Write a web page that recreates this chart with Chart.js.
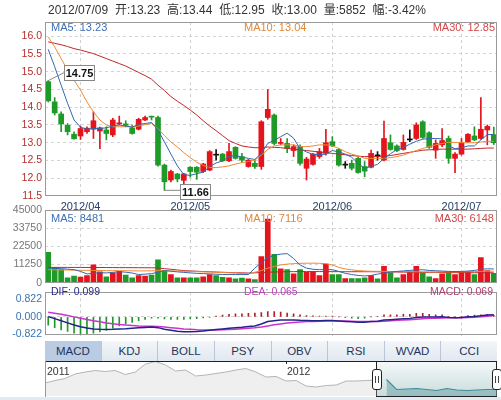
<!DOCTYPE html>
<html>
<head>
<meta charset="utf-8">
<script src="https://cdn.jsdelivr.net/npm/chart.js@4/dist/chart.umd.min.js"></script>
<style>
  html, body { margin: 0; padding: 0; background: #fff; }
  #wrap { position: relative; width: 501px; height: 400px; overflow: hidden;
          font-family: "Liberation Sans", Arial, "Noto Sans CJK SC", sans-serif; }
  canvas { position: absolute; left: 0; }
  .t { position: absolute; white-space: nowrap; line-height: 12px; }
  #tabs { position: absolute; left: 45px; top: 341px; width: 452px; height: 20px;
          background: linear-gradient(#f3f6fa, #e1e8f0); display: flex; }
  #tabs div { flex: 1; text-align: center; font-size: 11.5px; line-height: 20px; color: #1e3558;
              border-right: 1px solid #b9c6d6; box-sizing: border-box; }
  #tabs div:last-child { border-right: none; }
  #tabs div.on { background: #b9cce4; }
  #navTop { position: absolute; left: 45px; top: 361px; width: 452px; height: 1px; background: #222; }
  #navLeft { position: absolute; left: 45px; top: 361px; width: 1px; height: 36px; background: #999; }
  #win { position: absolute; left: 376px; top: 361px; width: 119px; height: 34px;
         border: 1px solid #222; background: linear-gradient(#f4f8f8, #c9dcdc); }
  .handle { position: absolute; top: 369px; width: 8px; height: 19px; border: 1px solid #222;
            border-radius: 3px; background: #fff; }
  .handle::before, .handle::after { content: ""; position: absolute; top: 6px; width: 1px; height: 7px; background: #444; }
  .handle::before { left: 2px; } .handle::after { left: 5px; }
  #strip { position: absolute; left: 0; top: 397px; width: 501px; height: 3px; background: #e4eaf1; }
</style>
</head>
<body>
<div id="wrap">
  <div id="win"></div>
  <canvas id="cNav" width="501" height="35" style="top:361px"></canvas>
  <canvas id="cPrice" width="501" height="215" style="top:0"></canvas>
  <canvas id="cVol" width="501" height="92" style="top:200px"></canvas>
  <canvas id="cMacd" width="501" height="62" style="top:283px"></canvas>

  <div class="t" id="title" style="left:48px;top:4px;font-size:12px;color:#333;word-spacing:3.5px"></div>
  <div class="t" id="lgMa5" style="left:51px;top:21px;font-size:11px;color:#3b6fb6"></div>
  <div class="t" id="lgMa10" style="left:244px;top:21px;font-size:11px;color:#e0883a"></div>
  <div class="t" id="lgMa30" style="right:6px;top:21px;font-size:11px;color:#d04848"></div>
  <div class="t" id="lgV5" style="left:51px;top:212px;font-size:11px;color:#3b6fb6"></div>
  <div class="t" id="lgV10" style="left:244px;top:212px;font-size:11px;color:#e0883a"></div>
  <div class="t" id="lgV30" style="right:7px;top:212px;font-size:11px;color:#d04848"></div>
  <div class="t" id="lgDif" style="left:51px;top:285px;font-size:10.5px;color:#2a2a90"></div>
  <div class="t" id="lgDea" style="left:244px;top:285px;font-size:10.5px;color:#c040c0"></div>
  <div class="t" id="lgMacd" style="right:8px;top:285px;font-size:10.5px;color:#b04070"></div>

  <div id="tabs"></div>
  <div id="navTop"></div>
  <div id="navLeft"></div>
  <div class="t" id="navY0" style="left:47px;top:365px;font-size:10.5px;color:#333"></div>
  <div class="t" id="navY1" style="left:287px;top:365px;font-size:10.5px;color:#333"></div>
  <div style="position:absolute;left:286px;top:361px;width:1px;height:3px;background:#222"></div>
  <div class="handle" style="left:372px"></div>
  <div class="handle" style="left:492px"></div>
  <div id="strip"></div>
</div>

<script>
// ---- trading days shown ----
const dates = [
  "2012/03/26","2012/03/27","2012/03/28","2012/03/29","2012/03/30",
  "2012/04/05","2012/04/06","2012/04/09","2012/04/10","2012/04/11","2012/04/12","2012/04/13",
  "2012/04/16","2012/04/17","2012/04/18","2012/04/19","2012/04/20","2012/04/23","2012/04/24",
  "2012/04/25","2012/04/26","2012/04/27",
  "2012/05/02","2012/05/03","2012/05/04","2012/05/07","2012/05/08","2012/05/09","2012/05/10",
  "2012/05/11","2012/05/14","2012/05/15","2012/05/16","2012/05/17","2012/05/18","2012/05/21",
  "2012/05/22","2012/05/23","2012/05/24","2012/05/25","2012/05/28","2012/05/29","2012/05/30","2012/05/31",
  "2012/06/01","2012/06/04","2012/06/05","2012/06/06","2012/06/07","2012/06/08","2012/06/11",
  "2012/06/12","2012/06/13","2012/06/14","2012/06/15","2012/06/18","2012/06/19","2012/06/20",
  "2012/06/21","2012/06/25","2012/06/26","2012/06/27","2012/06/28","2012/06/29",
  "2012/07/02","2012/07/03","2012/07/04","2012/07/05","2012/07/06","2012/07/09"
];

// ---- daily prices ----
const opens = [
  14.72,14.15,13.81,13.49,13.24,13.19,13.31,13.38,13.33,13.36,
  13.22,13.53,13.53,13.42,13.38,13.64,13.73,13.71,12.37,11.95,
  12.12,11.94,12.31,12.31,12.19,12.23,12.65,12.68,12.49,12.87,
  12.61,12.33,12.42,12.33,13.71,13.78,12.98,12.98,12.78,12.89,
  12.28,12.39,12.61,12.70,13.03,12.81,12.37,12.42,12.56,12.33,
  12.31,12.63,12.51,13.00,12.91,12.81,13.08,13.12,13.59,13.28,
  12.79,12.94,13.12,12.56,12.68,13.03,13.19,13.12,13.36,13.23
];
const highs = [
  14.75,14.27,13.87,13.54,13.31,13.47,13.45,13.87,13.44,13.45,
  13.69,13.75,13.62,13.50,13.69,13.75,13.75,13.75,12.40,12.23,
  12.14,12.14,12.33,12.33,12.42,12.78,12.81,12.70,12.98,12.89,
  12.70,12.53,12.50,13.62,14.50,13.81,13.12,13.12,12.94,12.94,
  12.59,12.70,12.84,13.38,13.17,12.84,12.47,12.51,12.59,12.47,
  12.79,12.75,13.61,13.22,12.94,13.22,13.36,13.56,13.62,13.31,
  13.08,13.40,13.19,12.72,13.12,13.26,13.45,14.27,13.50,13.44
];
const lows = [
  14.15,13.78,13.31,13.22,13.10,13.09,13.26,13.12,12.83,13.08,
  13.17,13.50,13.45,13.24,13.36,13.62,13.64,12.34,11.66,11.90,
  11.90,11.83,12.03,11.97,12.16,12.21,12.51,12.47,12.47,12.54,
  12.45,12.31,12.28,12.25,13.66,12.94,12.94,12.72,12.61,12.37,
  11.95,12.37,12.56,12.65,12.89,12.34,12.28,12.23,12.14,12.04,
  12.29,12.51,12.49,12.79,12.75,12.79,13.03,13.09,13.12,12.84,
  12.56,12.89,12.42,12.16,12.65,13.00,13.06,13.09,12.94,12.95
];
const closes = [
  14.18,13.84,13.53,13.31,13.11,13.40,13.41,13.62,13.42,13.26,
  13.64,13.56,13.49,13.26,13.66,13.71,13.72,12.37,11.90,12.19,
  11.98,12.12,12.19,12.17,12.40,12.75,12.65,12.49,12.75,12.56,
  12.51,12.51,12.33,13.59,13.94,12.98,13.01,12.84,12.89,12.42,
  12.54,12.68,12.75,13.00,12.91,12.37,12.37,12.28,12.16,12.20,
  12.70,12.63,13.12,12.81,12.78,13.01,13.08,13.50,13.15,12.87,
  12.98,13.06,12.56,12.68,13.00,13.24,13.08,13.38,13.46,13.00
];

// ---- price moving averages ----
const ma5 = [
  15.63,15.14,14.62,14.11,13.64,13.44,13.38,13.40,13.40,13.42,
  13.47,13.50,13.47,13.44,13.52,13.54,13.57,13.36,13.02,12.68,
  12.35,12.10,12.08,12.13,12.17,12.33,12.43,12.49,12.61,12.64,
  12.59,12.56,12.53,12.70,12.98,13.07,13.17,13.27,13.13,12.83,
  12.74,12.67,12.66,12.68,12.78,12.74,12.68,12.59,12.42,12.28,
  12.34,12.39,12.56,12.69,12.81,12.87,12.96,13.04,13.10,13.12,
  13.12,13.11,12.92,12.83,12.86,12.91,12.91,13.08,13.23,13.23
];
const ma10 = [
  15.98,15.70,15.37,15.04,14.76,14.48,14.15,13.87,13.64,13.50,
  13.45,13.45,13.45,13.45,13.47,13.51,13.54,13.40,13.20,13.02,
  12.88,12.72,12.58,12.45,12.36,12.30,12.30,12.32,12.35,12.40,
  12.44,12.47,12.51,12.65,12.81,12.91,12.94,12.94,12.94,12.89,
  12.89,12.91,12.94,12.94,12.91,12.84,12.75,12.68,12.63,12.56,
  12.56,12.56,12.56,12.58,12.61,12.65,12.72,12.78,12.84,12.89,
  12.94,12.98,13.01,13.01,13.00,13.00,13.00,13.02,13.04,13.04
];
const ma30 = [
  15.84,15.80,15.76,15.71,15.65,15.61,15.56,15.51,15.44,15.37,
  15.30,15.23,15.16,15.07,14.98,14.89,14.79,14.62,14.47,14.30,
  14.17,14.05,13.92,13.78,13.62,13.47,13.34,13.20,13.06,12.98,
  12.91,12.88,12.86,12.86,12.88,12.87,12.86,12.84,12.82,12.80,
  12.78,12.76,12.74,12.72,12.70,12.68,12.66,12.64,12.62,12.61,
  12.61,12.61,12.62,12.64,12.67,12.70,12.73,12.76,12.79,12.80,
  12.81,12.82,12.82,12.82,12.82,12.82,12.83,12.84,12.85,12.85
];

// ---- volume (lots) and its averages ----
const volume = [
  18780,9500,8060,3030,4040,3430,4440,11100,6660,3630,
  6060,7070,4640,3030,4440,4040,4640,14130,7470,5050,
  3030,3030,3030,3030,3630,5050,4440,3330,3030,2420,
  2820,2420,2000,16170,39370,17570,8660,8060,5450,8060,
  6460,6660,4440,11500,5050,5050,2620,2620,2620,3030,
  4440,2420,10100,6060,3030,5050,6660,10100,6060,3630,
  2620,5450,6660,5050,6660,6660,5050,15550,7470,5852
];
const vma5 = [
  9090,8900,8700,8400,8080,7000,5450,5800,6200,6060,
  6400,6800,6500,6000,5050,5300,5600,6500,7470,7100,
  6700,6400,6060,5800,5600,5450,5250,5050,5050,5050,
  5050,5050,9000,12500,15500,17000,17700,18000,15000,11000,
  9000,8300,8080,8080,8080,7000,5800,5050,4500,4200,
  4500,5300,6000,6600,7000,7300,7600,7900,8000,7600,
  7400,7200,7000,6900,7000,7200,7600,8300,8600,8481
];
const vma10 = [
  8080,8000,7900,7850,7800,7700,7650,7600,7550,7470,
  7450,7420,7400,7350,7300,7300,7350,7470,7400,7300,
  7200,7070,6950,6850,6700,6600,6450,6300,6150,6000,
  5700,5450,6500,7500,9000,10000,11000,11500,11800,12000,
  12050,12100,12000,11800,11000,9500,8500,8000,7500,7250,
  7070,7050,7000,6950,6900,6850,6800,6750,6700,6680,
  6660,6660,6680,6700,6750,6800,6900,7000,7060,7116
];
const vma30 = [
  9490,9480,9470,9460,9450,9440,9430,9420,9400,9380,
  9360,9340,9320,9300,9280,9260,9240,9200,8700,8300,
  7900,7470,7300,7100,6900,6750,6600,6450,6300,6150,
  6100,6000,6100,6300,6500,6600,6700,6800,6850,6900,
  6900,6900,6880,6860,6840,6820,6800,6800,6800,6800,
  6800,6750,6700,6650,6600,6550,6500,6450,6400,6400,
  6400,6350,6300,6250,6220,6200,6180,6170,6160,6148
];

// ---- MACD ----
const dif = [
  0.02,-0.08,-0.18,-0.28,-0.38,-0.46,-0.52,-0.56,-0.58,-0.59,
  -0.58,-0.56,-0.55,-0.53,-0.51,-0.49,-0.47,-0.50,-0.57,-0.62,
  -0.67,-0.69,-0.69,-0.68,-0.66,-0.62,-0.59,-0.56,-0.53,-0.50,
  -0.48,-0.45,-0.42,-0.33,-0.22,-0.18,-0.15,-0.14,-0.14,-0.16,
  -0.17,-0.18,-0.18,-0.17,-0.17,-0.19,-0.21,-0.23,-0.25,-0.25,
  -0.22,-0.20,-0.15,-0.13,-0.11,-0.09,-0.07,-0.03,-0.01,-0.01,
  -0.01,0.00,-0.03,-0.04,-0.03,0.00,0.02,0.05,0.09,0.099
];
const dea = [
  0.21,0.17,0.12,0.06,0.00,-0.06,-0.12,-0.18,-0.23,-0.28,
  -0.32,-0.35,-0.38,-0.40,-0.42,-0.43,-0.44,-0.45,-0.47,-0.50,
  -0.53,-0.56,-0.58,-0.60,-0.61,-0.61,-0.61,-0.60,-0.59,-0.57,
  -0.55,-0.53,-0.51,-0.47,-0.42,-0.37,-0.33,-0.29,-0.26,-0.24,
  -0.22,-0.21,-0.20,-0.19,-0.19,-0.19,-0.19,-0.20,-0.21,-0.22,
  -0.22,-0.21,-0.20,-0.18,-0.16,-0.15,-0.13,-0.11,-0.09,-0.07,
  -0.06,-0.05,-0.04,-0.04,-0.04,-0.03,-0.02,0.00,0.03,0.065
];
const macd = [
  -0.38,-0.50,-0.60,-0.68,-0.76,-0.80,-0.80,-0.76,-0.70,-0.62,
  -0.52,-0.42,-0.34,-0.26,-0.18,-0.12,-0.06,-0.06,-0.10,-0.12,
  -0.12,-0.12,-0.10,-0.08,-0.05,-0.02,0.04,0.08,0.12,0.14,
  0.14,0.16,0.18,0.20,0.24,0.25,0.22,0.18,0.14,0.10,
  0.06,0.05,0.04,0.04,0.04,0.00,-0.04,-0.06,-0.08,-0.06,
  0.00,0.02,0.10,0.10,0.10,0.12,0.12,0.16,0.16,0.12,
  0.10,0.10,0.02,0.00,0.02,0.06,0.08,0.10,0.12,0.069
];

// ---- overview strip (2011 - 2012) ----
const navYears = ["2011", "2012"];
const navValues = [
  14,16.5,18.5,23,25,26.5,25.5,26.5,22.5,25,
  33,35.5,32,26,27,21,22,23.5,25,27,
  28.5,25,20,20.5,16,16.5,11,10,11.5,12,
  16,16,16.5,17,17.5,7.5,8,8.5,7.5,6.5,
  8.5,7,6.5,7,7.5,7.5
];
const navSelFrom = 34;   // first overview point inside the selected window

// ---- axis tick values ----
const priceTicks = [11.5,12.0,12.5,13.0,13.5,14.0,14.5,15.0,15.5,16.0];
const volTicks = [0,11250,22500,33750,45000];
const macdTicks = [-0.822,0,0.822];

const tabNames = ["MACD","KDJ","BOLL","PSY","OBV","RSI","WVAD","CCI"];

// ---------------------------------------------------------------
const FONT = '"Liberation Sans", Arial, "Noto Sans CJK SC", sans-serif';
const RED = '#e5141c', GREEN = '#1e9a28', BLACK = '#111';
const C_MA5 = '#3466ae', C_MA10 = '#ee8a34', C_MA30 = '#c0262c';

const n = dates.length;
const last = n - 1;
const candleColor = closes.map((c, i) => c > opens[i] ? RED : (c < opens[i] ? GREEN : BLACK));
const volColor = closes.map((c, i) => c > opens[i] ? RED : (c < opens[i] ? GREEN :
                   (i > 0 && c >= closes[i - 1] ? RED : GREEN)));
const monthStarts = [];
dates.forEach((d, i) => { if (i > 0 && d.slice(5, 7) !== dates[i - 1].slice(5, 7)) monthStarts.push(i); });

// header line and legends
const chg = (closes[last] - closes[last - 1]) / closes[last - 1] * 100;
document.getElementById('title').textContent =
  dates[last] + ' 开:' + opens[last].toFixed(2) + ' 高:' + highs[last].toFixed(2) +
  ' 低:' + lows[last].toFixed(2) + ' 收:' + closes[last].toFixed(2) +
  ' 量:' + volume[last] + ' 幅:' + chg.toFixed(2) + '%';
const setText = (id, s) => { document.getElementById(id).textContent = s; };
setText('lgMa5', 'MA5: ' + ma5[last].toFixed(2));
setText('lgMa10', 'MA10: ' + ma10[last].toFixed(2));
setText('lgMa30', 'MA30: ' + ma30[last].toFixed(2));
setText('lgV5', 'MA5: ' + vma5[last]);
setText('lgV10', 'MA10: ' + vma10[last]);
setText('lgV30', 'MA30: ' + vma30[last]);
setText('lgDif', 'DIF: ' + dif[last].toFixed(3));
setText('lgDea', 'DEA: ' + dea[last].toFixed(3));
setText('lgMacd', 'MACD: ' + macd[last].toFixed(3));
setText('navY0', navYears[0]);
setText('navY1', navYears[1]);
const tabs = document.getElementById('tabs');
tabNames.forEach((t, i) => { const d = document.createElement('div'); d.textContent = t; if (i === 0) d.className = 'on'; tabs.appendChild(d); });

// panel outline
const frame = {
  id: 'frame',
  afterDraw(chart, args, opts) {
    const { ctx, chartArea: a } = chart;
    ctx.save();
    ctx.strokeStyle = opts.color || '#a0a0a0';
    ctx.lineWidth = 1;
    ctx.strokeRect(Math.round(a.left) + 0.5, Math.round(a.top) + 0.5,
                   Math.round(a.right - a.left) - 1, Math.round(a.bottom - a.top) - 1);
    ctx.restore();
  }
};

// tags for the highest high and lowest low
const extremes = {
  id: 'extremes',
  afterDraw(chart) {
    const { ctx, scales: { x, y } } = chart;
    let hi = 0, lo = 0;
    highs.forEach((v, i) => { if (v > highs[hi]) hi = i; });
    lows.forEach((v, i) => { if (v < lows[lo]) lo = i; });
    ctx.save();
    ctx.font = 'bold 11px ' + FONT;
    ctx.textBaseline = 'middle';
    ctx.textAlign = 'center';
    const tag = (px, py, bx, by, txt, lx, ly) => {
      ctx.strokeStyle = '#888'; ctx.lineWidth = 1;
      ctx.beginPath(); ctx.moveTo(px, py); ctx.lineTo(lx, ly); ctx.stroke();
      ctx.fillStyle = '#fff'; ctx.fillRect(bx, by, 31, 16);
      ctx.strokeRect(bx + 0.5, by + 0.5, 30, 15);
      ctx.fillStyle = '#111'; ctx.fillText(txt, bx + 15.5, by + 8.5);
    };
    const hx = x.getPixelForValue(hi), hy = y.getPixelForValue(highs[hi]);
    tag(hx, hy, Math.round(hx + 16), Math.round(hy - 16), highs[hi].toFixed(2), hx + 16, hy - 8);
    const lx = x.getPixelForValue(lo), ly = y.getPixelForValue(lows[lo]);
    tag(lx, ly, Math.round(lx + 16), Math.round(ly - 6), lows[lo].toFixed(2), lx + 16, ly);
    ctx.restore();
  }
};

function xAxis(showLabels) {
  return {
    type: 'category',
    offset: true,
    grid: {
      offset: false, drawTicks: false, lineWidth: 1,
      color: c => (c.type === 'tick' && monthStarts.includes(c.index)) ? '#cfcfcf' : 'rgba(0,0,0,0)'
    },
    border: { display: false, dash: [3, 3] },
    ticks: {
      display: showLabels, autoSkip: false, maxRotation: 0, padding: 4,
      font: { size: 11, family: FONT }, color: '#26406a',
      callback: (v, i) => monthStarts.includes(i) ? dates[i].slice(0, 7) : ''
    },
    afterFit: s => { s.height = showLabels ? 15 : 0; }
  };
}
function yAxis(min, max, ticks, color, fmt, gridTest) {
  return {
    min, max,
    afterBuildTicks: s => { s.ticks = ticks.map(v => ({ value: v })); },
    grid: { drawTicks: false, color: c => gridTest(c.tick ? c.tick.value : null) ? '#d4d4d4' : 'rgba(0,0,0,0)' },
    border: { display: false, dash: [3, 3] },
    ticks: { padding: 3, color, font: { size: 10.5, family: FONT }, callback: fmt },
    afterFit: s => { s.width = 45; }
  };
}
const baseOpts = {
  responsive: false, animation: false, events: [],
  plugins: { legend: { display: false }, tooltip: { enabled: false } }
};
const line = (data, color, w) => ({
  type: 'line', data, borderColor: color, borderWidth: w || 1, pointRadius: 0, tension: 0, order: 0
});

// ---- price panel ----
new Chart(document.getElementById('cPrice'), {
  type: 'bar',
  data: {
    labels: dates,
    datasets: [
      { data: lows.map((l, i) => [l, highs[i]]), backgroundColor: candleColor,
        barThickness: 1, grouped: false, order: 3 },
      { data: opens.map((o, i) => [o, closes[i]]), backgroundColor: candleColor,
        barThickness: 5, minBarLength: 1, grouped: false, order: 2 },
      line(ma5, C_MA5), line(ma10, C_MA10), line(ma30, C_MA30)
    ]
  },
  options: {
    ...baseOpts,
    layout: { padding: { left: 0, right: 4, top: 22, bottom: 4 } },
    scales: {
      x: xAxis(true),
      y: yAxis(11.5, 16.4, priceTicks, '#b0302c', v => v.toFixed(1), v => v !== null && v > 11.5)
    },
    plugins: { ...baseOpts.plugins, frame: { color: '#9a9a9a' } }
  },
  plugins: [frame, extremes]
});

// ---- volume panel ----
new Chart(document.getElementById('cVol'), {
  type: 'bar',
  data: {
    labels: dates,
    datasets: [
      { data: volume, backgroundColor: volColor, barThickness: 5, grouped: false, order: 2 },
      line(vma5, C_MA5), line(vma10, C_MA10), line(vma30, C_MA30)
    ]
  },
  options: {
    ...baseOpts,
    layout: { padding: { left: 0, right: 4, top: 10, bottom: 7 } },
    scales: {
      x: xAxis(false),
      y: yAxis(0, 45000, volTicks, '#777', v => String(v), v => v !== null && v > 0 && v < 45000)
    },
    plugins: { ...baseOpts.plugins, frame: { color: '#9a9a9a' } }
  },
  plugins: [frame]
});

// ---- MACD panel ----
new Chart(document.getElementById('cMacd'), {
  type: 'bar',
  data: {
    labels: dates,
    datasets: [
      { data: macd, backgroundColor: macd.map(v => v >= 0 ? '#b0202a' : '#1e9a28'),
        barThickness: 1, grouped: false, order: 2 },
      line(dif, '#23238c', 1.5), line(dea, '#cc33cc', 1.5)
    ]
  },
  options: {
    ...baseOpts,
    layout: { padding: { left: 0, right: 4, top: 2, bottom: 4 } },
    scales: {
      x: xAxis(false),
      y: yAxis(-0.874, 1.14, macdTicks, '#3574b4', v => v.toFixed(3), v => v === 0)
    },
    plugins: { ...baseOpts.plugins, frame: { color: '#9a9a9a' } }
  },
  plugins: [frame]
});

// ---- overview strip ----
new Chart(document.getElementById('cNav'), {
  type: 'line',
  data: {
    labels: navValues.map((v, i) => i),
    datasets: [
      { data: navValues.map((v, i) => i <= navSelFrom - 1 ? v : null), borderColor: '#b4b4b4',
        backgroundColor: '#efefef', fill: 'start', borderWidth: 1, pointRadius: 0, tension: 0 },
      { data: navValues.map((v, i) => i >= navSelFrom ? v : null), borderColor: '#3f8d9c',
        backgroundColor: 'rgba(110,165,172,0.55)', fill: 'start', borderWidth: 1.2, pointRadius: 0, tension: 0 }
    ]
  },
  options: {
    ...baseOpts,
    layout: { padding: { left: 45, right: 4, top: 0, bottom: 0 } },
    scales: { x: { display: false }, y: { display: false, min: 1, max: 36 } }
  }
});
</script>
</body>
</html>
